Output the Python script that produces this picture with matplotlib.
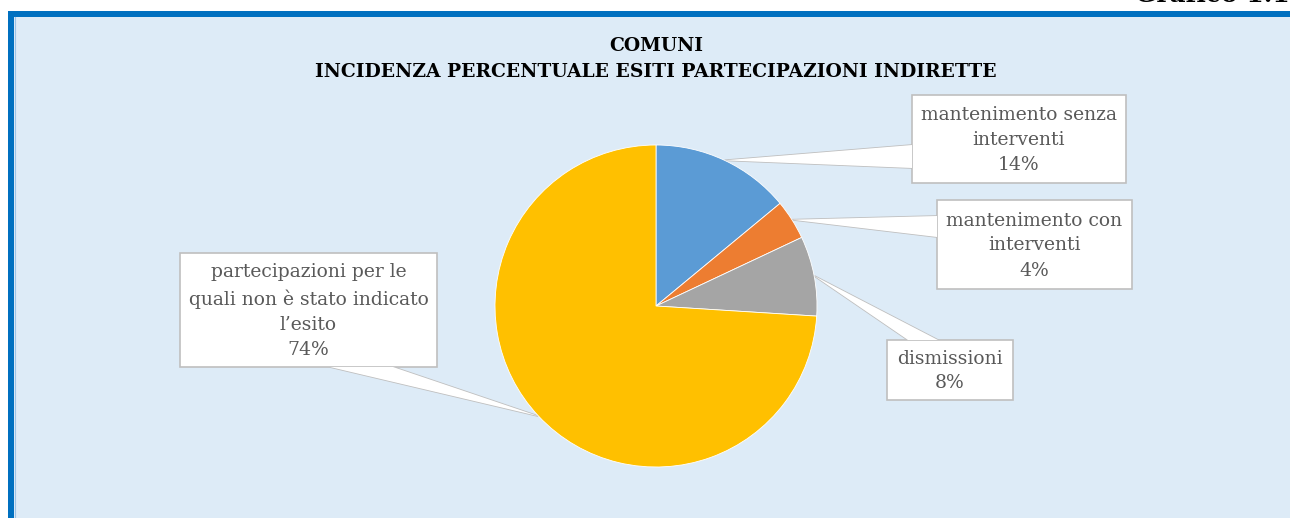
import matplotlib
matplotlib.use("Agg")
import matplotlib.pyplot as plt
import matplotlib.patches as mpatches
import numpy as np

# data
labels = ["mantenimento senza\ninterventi", "mantenimento con\ninterventi",
          "dismissioni", "partecipazioni per le\nquali non è stato indicato\nl\u2019esito"]
values = [14, 4, 8, 74]
colors = ['#5B9BD5', '#ED7D31', '#A5A5A5', '#FFC000']

TEXT = '#595959'
EDGE = '#BFBFBF'
BG = '#DDEBF7'
FRAME = '#0070C0'
SERIF = ['DejaVu Serif']

W, H = 1290, 518
fig = plt.figure(figsize=(W / 100, H / 100), dpi=100)
fig.patch.set_facecolor('white')

# overlay axes in pixel coordinates (y down)
bg = fig.add_axes([0, 0, 1, 1])
bg.set_xlim(0, W)
bg.set_ylim(H, 0)
bg.axis('off')

bg.add_patch(mpatches.Rectangle((8, 11), W, H, fc=FRAME, ec='none', zorder=0))
bg.add_patch(mpatches.Rectangle((14, 17), W, H, fc=BG, ec='none', zorder=0))
bg.plot([14.5, 14.5], [17, H], color='#9DC3E6', lw=0.8, zorder=0)

# header text, mostly cut off by the top edge as in the source
bg.text(1135, 2.5, "Grafico 1.1", ha='left', va='baseline', fontsize=18,
        fontweight='bold', family=SERIF, color='black', clip_on=True)

bg.text(656, 46, "COMUNI", ha='center', va='center', fontsize=13.5,
        fontweight='bold', family=SERIF, color='black')
bg.text(656, 72, "INCIDENZA PERCENTUALE ESITI PARTECIPAZIONI INDIRETTE",
        ha='center', va='center', fontsize=13.5, fontweight='bold',
        family=SERIF, color='black')

# pie
cx, cy, r = 656, 306, 161
pax = fig.add_axes([(cx - r) / W, (H - cy - r) / H, 2 * r / W, 2 * r / H])
wedges, _ = pax.pie(values, colors=colors, startangle=90, counterclock=False,
                    radius=1, wedgeprops=dict(linewidth=0.6, edgecolor='white'))
pax.set_xlim(-1, 1)
pax.set_ylim(-1, 1)
pax.set_aspect('equal')

def anchor(w):
    a = np.deg2rad((w.theta1 + w.theta2) / 2)
    p = pax.transData.transform((np.cos(a), np.sin(a)))
    return bg.transData.inverted().transform(p)

# label boxes: (x0, y0, x1, y1), base points of callout
boxes = [
    ((912, 95, 1126, 183), [(912, 145), (912, 168)]),
    ((937, 200, 1132, 289), [(937, 216), (937, 237)]),
    ((887, 340, 1013, 400), [(908, 340), (938, 340)]),
    ((180, 253, 437, 367), [(330, 367), (393, 367)]),
]

for w, lab, v, (box, base) in zip(wedges, labels, values, boxes):
    ax_, ay_ = anchor(w)
    tri = [(ax_, ay_), base[0], base[1]]
    bg.add_patch(mpatches.Polygon(tri, closed=True, fc='white', ec=EDGE, lw=1.2, zorder=3))
    x0, y0, x1, y1 = box
    bg.add_patch(mpatches.Rectangle((x0, y0), x1 - x0, y1 - y0, fc='white',
                                    ec=EDGE, lw=1.2, zorder=4))
    # hide the box edge where the callout joins
    bg.add_patch(mpatches.Polygon(tri, closed=True, fc='white', ec='none', zorder=5))
    bg.text((x0 + x1) / 2, (y0 + y1) / 2 + 1, f"{lab}\n{v}%", ha='center', va='center',
            fontsize=13.5, family=SERIF, color=TEXT, linespacing=1.5, zorder=6)

fig.savefig("out.png", dpi=100)
